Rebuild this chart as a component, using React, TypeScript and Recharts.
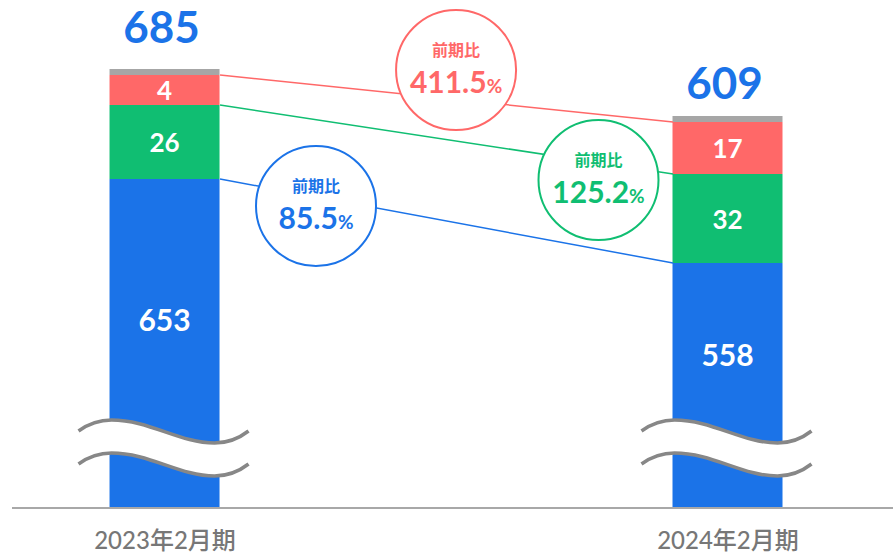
import { Bar, BarChart, LabelList, ReferenceDot, ReferenceLine, XAxis, YAxis } from "recharts";

const FONT = "Lato, 'Noto Sans CJK JP', sans-serif";
const BLUE = "#1b73e8";
const GREEN = "#10be72";
const RED = "#ff6868";
const GRAY = "#a6a6a6";

const categories = ["2023年2月期", "2024年2月期"];

// actual values (labels)
const blueValues = [653, 558];
const greenValues = [26, 32];
const redValues = [4, 17];
const otherValues = [2, 2];

// drawn heights: the source chart is not to scale and breaks the blue bar
const blueDrawn = [329, 245];
const greenDrawn = [74, 89];
const redDrawn = [30, 52];
const otherDrawn = [6, 6];

const blueYoy = "85.5";
const greenYoy = "125.2";
const redYoy = "411.5";

const BREAK_AT = 88; // where the wave cut sits, in drawn units from the base
const HALF_BAR = 0.0977; // half a bar in x-units
const totalGaps = [26, 17];

const data = categories.map((name, i) => ({
  x: i,
  name,
  blue: blueDrawn[i],
  green: greenDrawn[i],
  red: redDrawn[i],
  other: otherDrawn[i],
  blueValue: blueValues[i],
  greenValue: greenValues[i],
  redValue: redValues[i],
  total: blueValues[i] + greenValues[i] + redValues[i] + otherValues[i],
}));

type Pt = [number, number];

function wavePaths(left: number, right: number, top: number) {
  const start: Pt = [left - 31, top + 11];
  const segs: Pt[][] = [
    [[left - 20, top + 3], [left - 10, top], [left + 2, top]],
    [[left + 40, top], [left + 70, top + 23], [right - 5, top + 23]],
    [[right + 10, top + 23], [right + 20, top + 18], [right + 29, top + 11]],
  ];
  const fwd = (dy: number) =>
    `M${start[0]},${start[1] + dy} ` +
    segs.map((s) => "C" + s.map((p) => `${p[0]},${p[1] + dy}`).join(" ")).join(" ");
  const back = (dy: number) => {
    let d = "";
    for (let k = segs.length - 1; k >= 0; k--) {
      const prev = k === 0 ? start : segs[k - 1][2];
      const s = segs[k];
      d += ` C${s[1][0]},${s[1][1] + dy} ${s[0][0]},${s[0][1] + dy} ${prev[0]},${prev[1] + dy}`;
    }
    return d;
  };
  const gap = 33;
  const end = segs[2][2];
  const band = `${fwd(0)} L${end[0]},${end[1] + gap}${back(gap)} Z`;
  return { upper: fwd(0), lower: fwd(gap), band };
}

function BlueShape(props: any) {
  const { x, y, width, height, index } = props;
  const unit = height / blueDrawn[index];
  const bottom = y + height;
  const breakTop = bottom - BREAK_AT * unit;
  const w = wavePaths(x, x + width, breakTop);
  const labelY = y + 0.58 * (breakTop - y);
  return (
    <g>
      <rect x={x} y={y} width={width} height={height} fill={BLUE} />
      <path d={w.band} fill="#fff" />
      <path d={w.upper} fill="none" stroke="#878787" strokeWidth={3.5} />
      <path d={w.lower} fill="none" stroke="#878787" strokeWidth={3.5} />
      <text
        x={x + width / 2}
        y={labelY}
        textAnchor="middle"
        dominantBaseline="central"
        fill="#fff"
        fontSize={30}
        fontWeight={700}
        fontFamily={FONT}
      >
        {blueValues[index]}
      </text>
    </g>
  );
}

function SegLabel(props: any) {
  const { x, y, width, height, value } = props;
  return (
    <text
      x={x + width / 2}
      y={y + height / 2}
      textAnchor="middle"
      dominantBaseline="central"
      fill="#fff"
      fontSize={26}
      fontWeight={700}
      fontFamily={FONT}
    >
      {value}
    </text>
  );
}

function TotalLabel(props: any) {
  const { x, y, width, value, index } = props;
  return (
    <text
      x={x + width / 2 - 3}
      y={y - totalGaps[index]}
      textAnchor="middle"
      fill={BLUE}
      fontSize={44}
      fontWeight={700}
      fontFamily={FONT}
    >
      {value}
    </text>
  );
}

function bubble(color: string, pct: string) {
  return (props: any) => {
    const { cx, cy } = props;
    return (
      <g>
        <circle cx={cx} cy={cy} r={60} fill="#fff" stroke={color} strokeWidth={2} />
        <text
          x={cx}
          y={cy - 21}
          textAnchor="middle"
          dominantBaseline="central"
          fill={color}
          fontSize={16}
          fontWeight={700}
          fontFamily={FONT}
        >
          前期比
        </text>
        <text
          x={cx}
          y={cy + 23}
          textAnchor="middle"
          fill={color}
          fontSize={30}
          fontWeight={700}
          fontFamily={FONT}
        >
          {pct}
          <tspan fontSize={19}>%</tspan>
        </text>
      </g>
    );
  };
}

const cum = (i: number, n: number) =>
  [blueDrawn, greenDrawn, redDrawn].slice(0, n).reduce((s, arr) => s + arr[i], 0);

export default function App() {
  return (
    <div style={{ position: "absolute", left: 0, top: 0, background: "#fff" }}>
      <BarChart
        width={893}
        height={553}
        data={data}
        margin={{ top: 8, right: 0, bottom: 0, left: 12 }}
      >
        <XAxis
          dataKey="x"
          type="number"
          domain={[-0.2718, 1.2931]}
          allowDataOverflow
          ticks={[0, 1]}
          tickFormatter={(v: number) => categories[v]}
          height={45}
          tickLine={false}
          tickSize={0}
          tickMargin={24}
          stroke="#a8a8a8"
          strokeWidth={2}
          tick={{ fill: "#777", fontSize: 24, fontWeight: 500, fontFamily: FONT }}
        />
        <YAxis hide domain={[0, 500]} allowDataOverflow />
        <Bar dataKey="blue" stackId="a" barSize={110} shape={BlueShape} isAnimationActive={false} />
        <Bar dataKey="green" stackId="a" barSize={110} fill={GREEN} isAnimationActive={false}>
          <LabelList dataKey="greenValue" content={SegLabel} />
        </Bar>
        <Bar dataKey="red" stackId="a" barSize={110} fill={RED} isAnimationActive={false}>
          <LabelList dataKey="redValue" content={SegLabel} />
        </Bar>
        <Bar dataKey="other" stackId="a" barSize={110} fill={GRAY} isAnimationActive={false}>
          <LabelList dataKey="total" content={TotalLabel} />
        </Bar>
        <ReferenceLine
          segment={[{ x: HALF_BAR, y: cum(0, 3) }, { x: 1 - HALF_BAR, y: cum(1, 3) }]}
          stroke={RED}
          strokeWidth={1.5}
        />
        <ReferenceLine
          segment={[{ x: HALF_BAR, y: cum(0, 2) }, { x: 1 - HALF_BAR, y: cum(1, 2) }]}
          stroke={GREEN}
          strokeWidth={1.5}
        />
        <ReferenceLine
          segment={[{ x: HALF_BAR, y: cum(0, 1) }, { x: 1 - HALF_BAR, y: cum(1, 1) }]}
          stroke={BLUE}
          strokeWidth={1.5}
        />
        <ReferenceDot x={0.517} y={438} shape={bubble(RED, redYoy)} />
        <ReferenceDot x={0.77} y={328} shape={bubble(GREEN, greenYoy)} />
        <ReferenceDot x={0.2682} y={302} shape={bubble(BLUE, blueYoy)} />
      </BarChart>
    </div>
  );
}
